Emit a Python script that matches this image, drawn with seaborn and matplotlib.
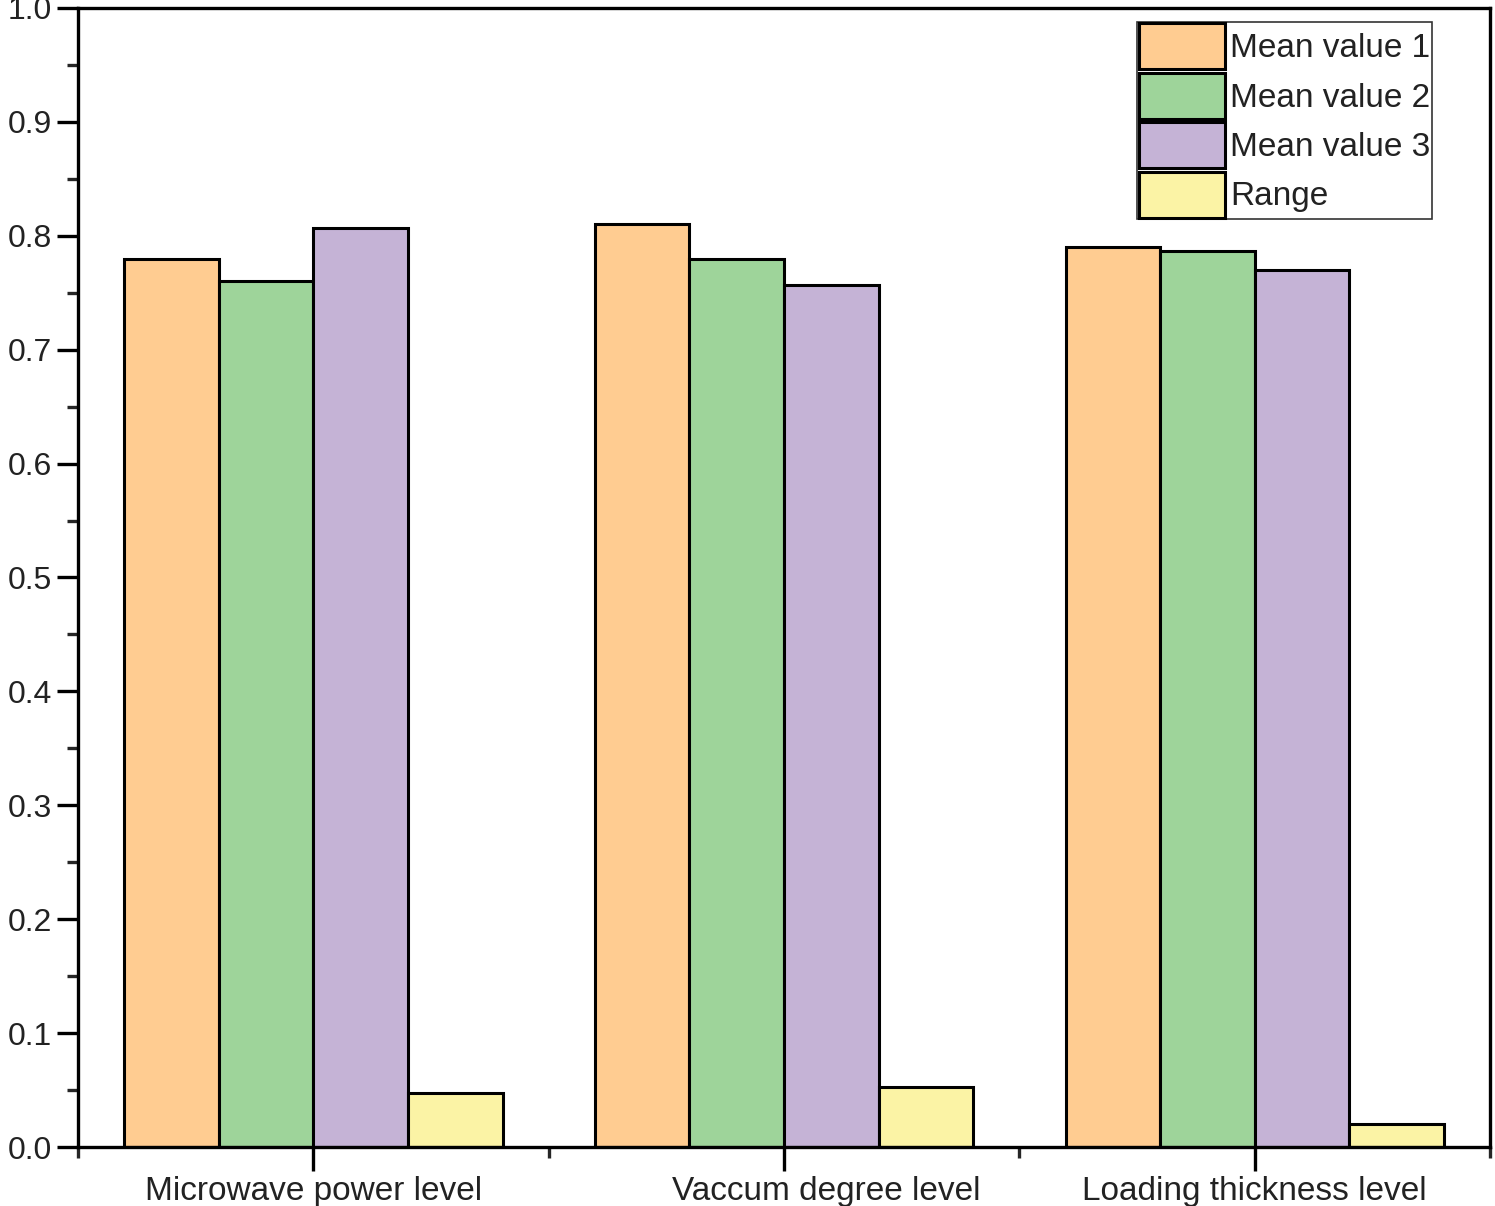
import pandas as pd
import seaborn as sns
import matplotlib.pyplot as plt
from matplotlib.patches import Patch
from matplotlib.ticker import MultipleLocator, FixedLocator
from matplotlib.transforms import ScaledTranslation

factors = ["Microwave power level", "Vaccum degree level", "Loading thickness level"]
series = ["Mean value 1", "Mean value 2", "Mean value 3", "Range"]
mean1 = [0.780, 0.810, 0.790]
mean2 = [0.760, 0.780, 0.787]
mean3 = [0.807, 0.757, 0.770]
ranges = [0.047, 0.053, 0.020]
colors = ["#FFCC91", "#9ED49A", "#C5B3D6", "#FBF3A5"]

df = pd.DataFrame({
    "factor": factors * 4,
    "series": [s for s in series for _ in factors],
    "value": mean1 + mean2 + mean3 + ranges,
})

sns.set_style("ticks")
plt.rcParams["font.family"] = ["Liberation Sans", "DejaVu Sans"]

fig = plt.figure(figsize=(14.95, 12.06), dpi=100)
ax = fig.add_axes([0.0522, 0.0489, 0.9445, 0.9445])

sns.barplot(data=df, x="factor", y="value", hue="series", hue_order=series,
            palette=colors, width=0.804, gap=0, edgecolor="black", linewidth=2.2,
            saturation=1, ax=ax, legend=False)

ax.set_xlim(-0.5, 2.5)
ax.set_ylim(0, 1.0)
ax.set_yticks([i / 10 for i in range(11)])
ax.set_yticklabels([f"{i / 10:.1f}" for i in range(11)])
ax.yaxis.set_minor_locator(MultipleLocator(0.05))
ax.xaxis.set_minor_locator(FixedLocator([-0.5, 0.5, 1.5, 2.5]))
ax.set_xlabel("")
ax.set_ylabel("")

for side in ["left", "bottom", "top", "right"]:
    ax.spines[side].set_linewidth(2.4)
    ax.spines[side].set_color("black")

ax.tick_params(axis="both", which="major", direction="out", length=15, width=2.4,
               labelsize=23, colors="black", labelcolor="#222222")
ax.tick_params(axis="x", which="major", labelsize=24, length=17, pad=4)
ax.tick_params(axis="y", which="major", pad=4)
ax.tick_params(axis="both", which="minor", direction="out", length=8, width=2.4)

# the middle label sits a bit right of its tick in the original
lbl = ax.get_xticklabels()[1]
lbl.set_transform(lbl.get_transform() + ScaledTranslation(0.42, 0, fig.dpi_scale_trans))

handles = [Patch(facecolor=c, edgecolor="black", linewidth=2.2) for c in colors]
leg = ax.legend(handles, series, loc="upper right", bbox_to_anchor=(0.959, 0.988),
                fontsize=24, frameon=True, fancybox=False, handlelength=2.6,
                handleheight=1.75, handletextpad=0.15, labelspacing=0.1,
                borderpad=0.05, borderaxespad=0)
leg.get_frame().set_edgecolor("black")
leg.get_frame().set_linewidth(1.2)
for t in leg.get_texts():
    t.set_color("#222222")

fig.savefig("out.png", dpi=100)
